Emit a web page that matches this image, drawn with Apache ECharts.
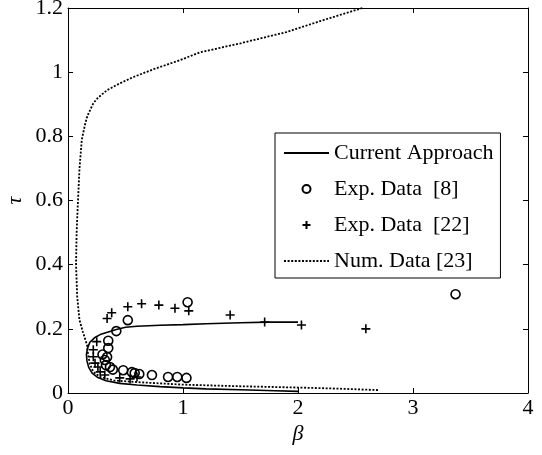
<!DOCTYPE html>
<html>
<head>
    <meta charset="utf-8">
    <title>tau vs beta</title>
    <script src="https://cdn.jsdelivr.net/npm/echarts@6/dist/echarts.min.js"></script>
    <style>
        html, body { margin: 0; padding: 0; background: #fff; }
        #chart { width: 542px; height: 455px; }
    </style>
</head>
<body>
<div id="chart"></div>
<script>
    // Current Approach (solid curve)
    const currentBeta = [2.0, 1.75, 1.5, 1.2, 1.0, 0.8, 0.6, 0.5, 0.42, 0.35, 0.28, 0.23, 0.19, 0.17, 0.16, 0.165, 0.18, 0.21, 0.26, 0.33, 0.45, 0.6, 0.8, 1.0, 1.2, 1.5, 1.8, 2.0];
    const currentTau = [0.221, 0.221, 0.219, 0.216, 0.213, 0.211, 0.208, 0.205, 0.198, 0.19, 0.182, 0.172, 0.158, 0.14, 0.12, 0.1, 0.08, 0.062, 0.048, 0.038, 0.03, 0.025, 0.02, 0.016, 0.013, 0.01, 0.007, 0.005];

    // Exp. Data [8] (circles)
    const exp8Beta = [1.04, 0.52, 0.42, 0.35, 0.35, 0.34, 0.32, 0.33, 0.365, 0.39, 0.48, 0.555, 0.58, 0.62, 0.73, 0.87, 0.95, 1.03, 0.3, 3.37];
    const exp8Tau = [0.283, 0.227, 0.193, 0.163, 0.14, 0.112, 0.103, 0.087, 0.081, 0.073, 0.071, 0.065, 0.062, 0.059, 0.056, 0.05, 0.05, 0.047, 0.12, 0.308];

    // Exp. Data [22] (plus signs)
    const exp22Beta = [0.34, 0.38, 0.52, 0.64, 0.79, 0.93, 1.05, 1.41, 1.71, 2.03, 2.59, 0.25, 0.22, 0.22, 0.235, 0.26, 0.28, 0.32, 0.45, 0.54, 0.6];
    const exp22Tau = [0.232, 0.25, 0.269, 0.278, 0.274, 0.264, 0.256, 0.243, 0.221, 0.212, 0.2, 0.16, 0.135, 0.113, 0.093, 0.081, 0.066, 0.056, 0.047, 0.044, 0.05];

    // Num. Data [23] (dotted curve)
    const numBeta = [2.56, 2.2, 1.9, 1.5, 1.15, 0.97, 0.75, 0.57, 0.45, 0.34, 0.26, 0.22, 0.17, 0.15, 0.12, 0.1, 0.087, 0.075, 0.07, 0.08, 0.1, 0.13, 0.165, 0.175, 0.19, 0.22, 0.28, 0.4, 0.6, 0.8, 1.0, 1.5, 2.0, 2.4, 2.7];
    const numTau = [1.2, 1.16, 1.125, 1.09, 1.062, 1.037, 1.01, 0.985, 0.965, 0.944, 0.92, 0.903, 0.865, 0.84, 0.79, 0.7, 0.6, 0.5, 0.4, 0.3, 0.227, 0.19, 0.15, 0.12, 0.09, 0.066, 0.05, 0.039, 0.034, 0.03, 0.026, 0.021, 0.017, 0.013, 0.009];

    const legendNames = ['Current Approach', 'Exp. Data  [8]', 'Exp. Data  [22]', 'Num. Data [23]'];

    const zip = (xs, ys) => xs.map((x, i) => [x, ys[i]]);
    const font = "'Liberation Serif', 'Times New Roman', serif";
    const plusPath = 'path://M0 5 L10 5 M5 0 L5 10';

    const chart = echarts.init(document.getElementById('chart'), null, { renderer: 'canvas' });

    const baseAxis = {
        axisLine: { show: true, onZero: false, lineStyle: { color: '#000', width: 1 } },
        axisTick: { show: true, inside: true, length: 5, lineStyle: { color: '#000' } },
        splitLine: { show: false }
    };

    chart.setOption({
        animation: false,
        backgroundColor: '#fff',
        textStyle: { fontFamily: font },
        grid: { left: 68, right: 14, top: 8, bottom: 62, containLabel: false, outerBoundsMode: 'none' },
        xAxis: [
            Object.assign({}, baseAxis, {
                type: 'value', min: 0, max: 4, interval: 1, position: 'bottom',
                name: 'β', nameLocation: 'middle', nameGap: 30, nameMoveOverlap: false,
                nameTextStyle: { fontFamily: font, fontSize: 22, fontStyle: 'italic', color: '#000' },
                axisLabel: { color: '#000', fontFamily: font, fontSize: 22, margin: 4 }
            }),
            Object.assign({}, baseAxis, {
                type: 'value', min: 0, max: 4, interval: 1, position: 'top',
                axisLabel: { show: false }
            })
        ],
        yAxis: [
            Object.assign({}, baseAxis, {
                type: 'value', min: 0, max: 1.2, interval: 0.2, position: 'left',
                name: 'τ', nameLocation: 'middle', nameGap: 42, nameMoveOverlap: false,
                nameTextStyle: { fontFamily: font, fontSize: 22, fontStyle: 'italic', color: '#000' },
                axisLabel: { color: '#000', fontFamily: font, fontSize: 22, margin: 5 }
            }),
            Object.assign({}, baseAxis, {
                type: 'value', min: 0, max: 1.2, interval: 0.2, position: 'right',
                axisLabel: { show: false }
            })
        ],
        legend: {
            orient: 'vertical',
            left: 275,
            top: 133,
            padding: [9, 7, 6, 8],
            itemWidth: 45,
            itemHeight: 8,
            itemGap: 14,
            borderColor: '#000',
            borderWidth: 1,
            backgroundColor: '#fff',
            textStyle: { fontFamily: font, fontSize: 22, lineHeight: 22, color: '#000' },
            data: [
                { name: legendNames[0], itemStyle: { opacity: 0 } },
                { name: legendNames[1] },
                { name: legendNames[2] },
                { name: legendNames[3], itemStyle: { opacity: 0 } }
            ]
        },
        series: [
            {
                name: legendNames[0],
                type: 'line',
                data: zip(currentBeta, currentTau),
                symbol: 'none',
                showSymbol: false,
                lineStyle: { color: '#000', width: 1.6 },
                itemStyle: { color: '#000' },
                z: 3
            },
            {
                name: legendNames[1],
                type: 'scatter',
                data: zip(exp8Beta, exp8Tau),
                symbol: 'circle',
                symbolSize: 9,
                itemStyle: { color: 'rgba(0,0,0,0)', borderColor: '#000', borderWidth: 1.6, opacity: 1 },
                z: 4
            },
            {
                name: legendNames[2],
                type: 'scatter',
                data: zip(exp22Beta, exp22Tau),
                symbol: plusPath,
                symbolSize: 9,
                itemStyle: { color: 'rgba(0,0,0,0)', borderColor: '#000', borderWidth: 1.6, opacity: 1 },
                z: 4
            },
            {
                name: legendNames[3],
                type: 'line',
                data: zip(numBeta, numTau),
                symbol: 'none',
                showSymbol: false,
                lineStyle: { color: '#000', width: 1.8, type: [2, 1.6] },
                itemStyle: { color: '#000' },
                z: 2
            }
        ]
    });
</script>
</body>
</html>
